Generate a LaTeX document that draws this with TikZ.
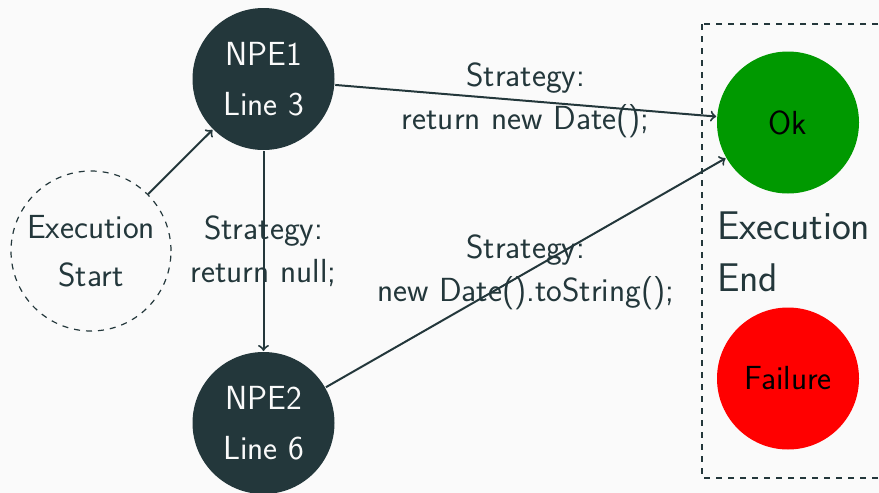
\documentclass[tikz,border=0pt]{standalone}
\usepackage{fontspec}
\usetikzlibrary{positioning}
\definecolor{mDarkTeal}{HTML}{23373B}
\definecolor{mBg}{HTML}{FAFAFA}
\definecolor{okgreen}{HTML}{009900}

\begin{document}
\begin{tikzpicture}[->, x=0.5pt, y=-0.5pt, color=mDarkTeal, line width=1pt,
	npe/.style={circle, fill=mDarkTeal, text=mBg, minimum size=71pt, inner sep=0pt, align=center, font=\sffamily\fontsize{16.7}{25}\selectfont},
	outcome/.style={circle, minimum size=71pt, inner sep=0pt, text=black, font=\sffamily\fontsize{16.7}{25}\selectfont},
	startnode/.style={circle, draw, dashed, line width=0.6pt, minimum size=80pt, inner sep=0pt, align=center, font=\sffamily\fontsize{16.7}{24}\selectfont},
	strategy/.style={midway, align=center, font=\sffamily\fontsize{16.7}{21.5}\selectfont}]

\fill[mBg] (0,0) rectangle (879,493);
\clip (0,0) rectangle (879,493);

\node[startnode] (start) at (91,251) {Execution\\Start};
\node[npe] (npe1) at (263.5,79) {NPE1\\Line 3};
\node[npe] (npe2) at (263.5,423) {NPE2\\Line 6};
\node[outcome, fill=okgreen] (ok) at (788,122.5) {Ok};
\node[outcome, fill=red] (failure) at (788,378.5) {Failure};
\node[anchor=west, inner sep=0pt, align=left, font=\sffamily\fontsize{20}{26}\selectfont] (endlabel) at (716,252) {Execution\\End};

\draw[dashed, line width=0.6pt] (702,24) rectangle (900,478);

\draw (start) -- (npe1);
\draw (npe1) -- (npe2) node[strategy] {Strategy:\\return null;};
\draw (npe1) -- (ok) node[strategy] {Strategy:\\return new Date();};
\draw (npe2) -- (ok) node[strategy] {Strategy:\\new Date().toString();};
\end{tikzpicture}
\end{document}
